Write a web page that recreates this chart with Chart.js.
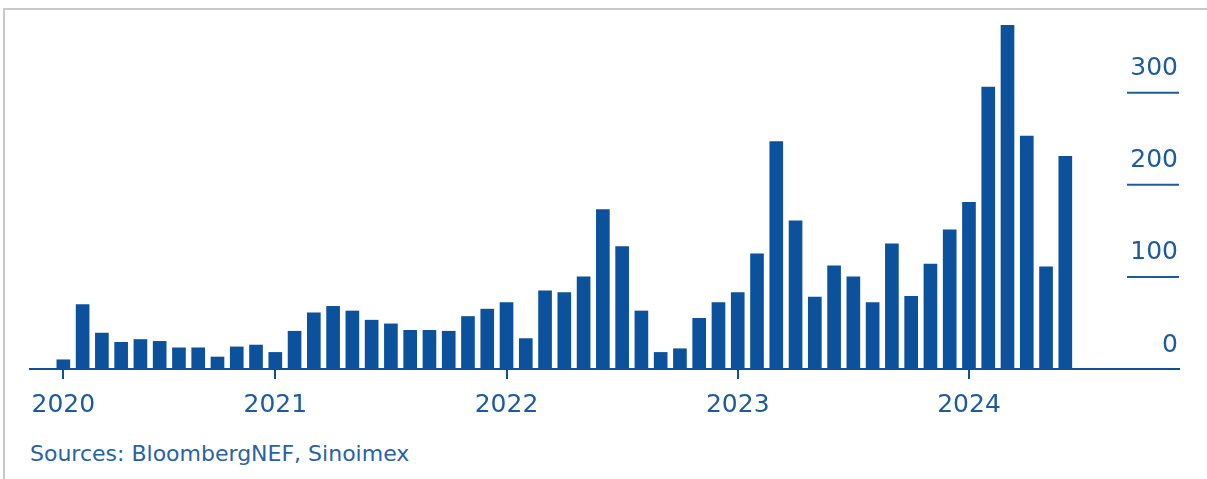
<!DOCTYPE html>
<html>
<head>
<meta charset="utf-8">
<script src="https://cdn.jsdelivr.net/npm/chart.js@4.4.1/dist/chart.umd.min.js"></script>
<style>
  html, body { margin: 0; padding: 0; background: #fff; }
  body { width: 1207px; height: 479px; position: relative; overflow: hidden; }
  #frame { position: absolute; left: 3px; top: 8px; right: -4px; bottom: -4px;
           border-top: 2px solid #c9c9c9; border-left: 2px solid #c9c9c9; }
  #wrap { position: absolute; left: 0; top: 0; width: 1207px; height: 440px; }
  #source { position: absolute; left: 30px; top: 441px; font-family: "DejaVu Sans", sans-serif;
            font-size: 22px; color: #2862a6; white-space: nowrap; }
</style>
</head>
<body>
<div id="frame"></div>
<div id="wrap"><canvas id="chart"></canvas></div>
<div id="source">Sources: BloombergNEF, Sinoimex</div>
<script>
// monthly values, Feb 2020 - Jun 2024
var months = [
  '2020-02','2020-03','2020-04','2020-05','2020-06','2020-07','2020-08','2020-09','2020-10','2020-11','2020-12',
  '2021-01','2021-02','2021-03','2021-04','2021-05','2021-06','2021-07','2021-08','2021-09','2021-10','2021-11','2021-12',
  '2022-01','2022-02','2022-03','2022-04','2022-05','2022-06','2022-07','2022-08','2022-09','2022-10','2022-11','2022-12',
  '2023-01','2023-02','2023-03','2023-04','2023-05','2023-06','2023-07','2023-08','2023-09','2023-10','2023-11','2023-12',
  '2024-01','2024-02','2024-03','2024-04','2024-05','2024-06'
];
var values = [
  10, 70, 39, 29, 32, 30, 23, 23, 13, 24, 26,
  18, 41, 61, 68, 63, 53, 49, 42, 42, 41, 57, 65,
  72, 33, 85, 83, 100, 173, 133, 63, 18, 22, 55, 72,
  83, 125, 247, 161, 78, 112, 100, 72, 136, 79, 114, 151,
  181, 306, 373, 253, 111, 231
];
var yearTicks = ['2020', '2021', '2022', '2023', '2024'];
var yTicks = [0, 100, 200, 300];

var blue = '#0b519c';
var textBlue = '#1d5ba1';
var font = '"DejaVu Sans", sans-serif';

// first bar carries the 2020 label, then every January
var yearIdx = [];
months.forEach(function(m, i){
    if (i === 0 || m.slice(5) === '01') yearIdx.push(i);
});

var points = values.map(function(v, i){ return {x: i, y: v}; });

var rightLabels = {
    id: 'rightLabels',
    afterDraw: function(chart){
        var ctx = chart.ctx, y = chart.scales.y, area = chart.chartArea;
        ctx.save();
        ctx.font = '25px ' + font;
        ctx.fillStyle = textBlue;
        ctx.strokeStyle = textBlue;
        ctx.lineWidth = 2;
        ctx.textAlign = 'right';
        ctx.textBaseline = 'middle';
        yTicks.forEach(function(t){
            var py = y.getPixelForValue(t);
            ctx.fillText(String(t), area.right - 1, py - 24);
            if (t > 0) {
                ctx.beginPath();
                ctx.moveTo(area.right - 52, py);
                ctx.lineTo(area.right, py);
                ctx.stroke();
            }
        });
        ctx.restore();
    }
};

var chart = new Chart(document.getElementById('chart'), {
    type: 'bar',
    data: {
        datasets: [{
            label: 'Monthly',
            data: points,
            backgroundColor: blue,
            barThickness: 13
        }]
    },
    options: {
        responsive: true,
        maintainAspectRatio: false,
        animation: false,
        layout: { padding: { left: 30, right: 28, top: 19, bottom: 9 } },
        plugins: { legend: { display: false }, tooltip: { enabled: false } },
        scales: {
            x: {
                type: 'linear',
                min: -1.73,
                max: 57.9,
                offset: false,
                afterBuildTicks: function(axis){
                    axis.ticks = yearIdx.map(function(i){ return {value: i}; });
                },
                border: { display: true, color: blue, width: 2 },
                grid: { offset: false, drawOnChartArea: false, drawTicks: true, tickLength: 10, color: blue, lineWidth: 2 },
                ticks: {
                    autoSkip: false,
                    maxRotation: 0,
                    padding: 11,
                    color: textBlue,
                    font: { family: font, size: 25 },
                    callback: function(v){ return yearTicks[yearIdx.indexOf(v)]; }
                }
            },
            y: {
                display: false,
                min: 0,
                max: 380
            }
        }
    },
    plugins: [rightLabels]
});
</script>
</body>
</html>
